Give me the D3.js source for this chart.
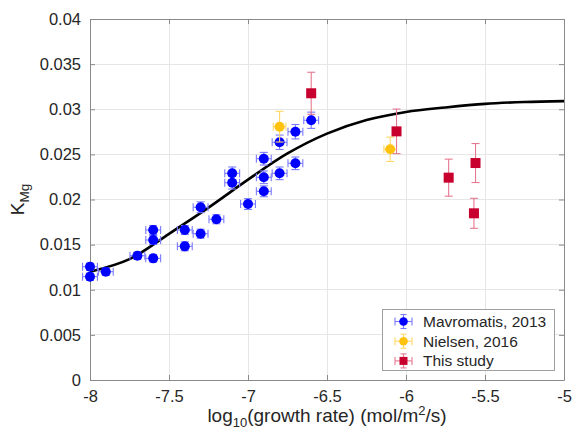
<!DOCTYPE html>
<html>
<head>
<meta charset="utf-8">
<script src="https://cdn.jsdelivr.net/npm/d3@7"></script>
<style>
  html, body { margin: 0; padding: 0; background: #fff; }
  svg { display: block; font-family: "Liberation Sans", Arial, Helvetica, sans-serif; }
</style>
</head>
<body>
<svg id="chart" width="574" height="439"></svg>
<script>
// Mavromatis, 2013
const mavX    = [-8.0, -8.0, -7.9, -7.7, -7.6, -7.6, -7.6, -7.4, -7.4, -7.3, -7.3, -7.2, -7.1, -7.1, -7.0, -6.9, -6.9, -6.9, -6.8, -6.8, -6.7, -6.7, -6.6];
const mavK    = [0.01255, 0.01145, 0.0120, 0.01377, 0.01662, 0.01551, 0.01348, 0.01662, 0.01481, 0.01914, 0.01621, 0.01781, 0.0229, 0.02186, 0.0195, 0.02452, 0.02246, 0.02091, 0.02634, 0.0229, 0.02751, 0.02401, 0.02878];
const mavKErr = [0.0004, 0.0004, 0.0004, 0.0004, 0.0005, 0.0005, 0.0004, 0.0005, 0.0005, 0.0006, 0.0005, 0.0005, 0.0007, 0.0007, 0.0006, 0.0007, 0.0007, 0.0006, 0.0008, 0.0007, 0.0008, 0.0007, 0.0009];
const mavXErr = [0.047, 0.047, 0.047, 0.047, 0.047, 0.047, 0.047, 0.047, 0.047, 0.047, 0.047, 0.047, 0.047, 0.047, 0.047, 0.047, 0.047, 0.047, 0.047, 0.047, 0.047, 0.047, 0.047];

// Nielsen, 2016
const nieX    = [-6.8, -6.1];
const nieK    = [0.02807, 0.02556];
const nieKErr = [0.0017, 0.00135];
const nieXErr = [0.04, 0.04];

// This study
const stdX    = [-6.6, -6.06, -5.73, -5.57, -5.56];
const stdK    = [0.03177, 0.02755, 0.02242, 0.01847, 0.02404];
const stdKErr = [0.00233, 0.00247, 0.00205, 0.00166, 0.00216];
const stdXErr = [0.025, 0.025, 0.025, 0.025, 0.025];

// Model curve
const fitX = [-8.0, -7.75, -7.5, -7.25, -7.0, -6.75, -6.5, -6.25, -6.0, -5.75, -5.5, -5.25, -5.0];
const fitK = [0.0120, 0.0134, 0.0162, 0.0191, 0.0222, 0.0251, 0.0273, 0.0288, 0.0297, 0.0302, 0.0306, 0.0308, 0.0309];

const xTicks = [-8, -7.5, -7, -6.5, -6, -5.5, -5];
const yTicks = [0, 0.005, 0.01, 0.015, 0.02, 0.025, 0.03, 0.035, 0.04];
const legendLabels = ["Mavromatis, 2013", "Nielsen, 2016", "This study"];

const svg = d3.select("#chart");
const L = 90, R = 564, T = 19, B = 380;
const x = d3.scaleLinear().domain([-8, -5]).range([L, R]);
const y = d3.scaleLinear().domain([0, 0.04]).range([B, T]);

const axisColor = "#8a8a8a";
const textColor = "#262626";

// grid
const grid = svg.append("g");
grid.selectAll("line.gx").data(xTicks).join("line")
  .attr("x1", d => x(d)).attr("x2", d => x(d)).attr("y1", T).attr("y2", B)
  .attr("stroke", "#e6e6e6").attr("stroke-width", 1).attr("shape-rendering", "crispEdges");
grid.selectAll("line.gy").data(yTicks).join("line")
  .attr("x1", L).attr("x2", R).attr("y1", d => y(d)).attr("y2", d => y(d))
  .attr("stroke", "#e6e6e6").attr("stroke-width", 1).attr("shape-rendering", "crispEdges");

// axes (ticks point inward, box on all sides)
const fmtY = d => d === 0 ? "0" : String(+d.toFixed(3));
const fmtX = d => String(d).replace("\u2212", "-");
function styleAxis(g) {
  g.select(".domain").attr("stroke", axisColor);
  g.selectAll(".tick line").attr("stroke", axisColor);
  g.selectAll(".tick text").attr("fill", textColor).attr("font-size", 16.5)
    .attr("font-family", "Liberation Sans, Arial, sans-serif");
}
svg.append("g").attr("transform", `translate(0,${B})`)
  .call(d3.axisBottom(x).tickValues(xTicks).tickSize(-5).tickSizeOuter(0).tickPadding(10).tickFormat(fmtX))
  .call(styleAxis);
svg.append("g").attr("transform", `translate(${L},0)`)
  .call(d3.axisLeft(y).tickValues(yTicks).tickSize(-5).tickSizeOuter(0).tickPadding(9).tickFormat(fmtY))
  .call(styleAxis);
svg.append("g").attr("transform", `translate(0,${T})`)
  .call(d3.axisTop(x).tickValues(xTicks).tickSize(-5).tickSizeOuter(0).tickFormat(""))
  .call(styleAxis);
svg.append("g").attr("transform", `translate(${R},0)`)
  .call(d3.axisRight(y).tickValues(yTicks).tickSize(-5).tickSizeOuter(0).tickFormat(""))
  .call(styleAxis);

// fitted curve
svg.append("path")
  .datum(fitX.map((v, i) => [v, fitK[i]]))
  .attr("d", d3.line().x(d => x(d[0])).y(d => y(d[1])).curve(d3.curveCatmullRom))
  .attr("fill", "none").attr("stroke", "#000").attr("stroke-width", 2.6);

// error bars + markers
function drawSeries(xs, ks, kErr, xErr, color, barColor, shape) {
  const g = svg.append("g");
  const data = xs.map((v, i) => ({ x: v, k: ks[i], ke: kErr[i], xe: xErr[i] }));
  const cap = 4;
  data.forEach(d => {
    const cx = x(d.x), cy = y(d.k);
    const x0 = x(d.x - d.xe), x1 = x(d.x + d.xe);
    const y0 = y(d.k - d.ke), y1 = y(d.k + d.ke);
    const segs = [
      [cx, y0, cx, y1], [cx - cap, y0, cx + cap, y0], [cx - cap, y1, cx + cap, y1],
      [x0, cy, x1, cy], [x0, cy - cap, x0, cy + cap], [x1, cy - cap, x1, cy + cap]
    ];
    segs.forEach(s => g.append("line")
      .attr("x1", s[0]).attr("y1", s[1]).attr("x2", s[2]).attr("y2", s[3])
      .attr("stroke", barColor).attr("stroke-width", 1.1));
  });
  if (shape === "circle") {
    g.selectAll("circle").data(data).join("circle")
      .attr("cx", d => x(d.x)).attr("cy", d => y(d.k)).attr("r", 5)
      .attr("fill", color);
  } else {
    g.selectAll("rect.m").data(data).join("rect")
      .attr("x", d => x(d.x) - 5).attr("y", d => y(d.k) - 5)
      .attr("width", 10).attr("height", 10).attr("fill", color);
  }
}
const colors = ["#0000ff", "#ffc20e", "#c8002d"];
const barColors = ["#7a7aff", "#ffd866", "#e5788f"];
drawSeries(mavX, mavK, mavKErr, mavXErr, colors[0], barColors[0], "circle");
drawSeries(nieX, nieK, nieKErr, nieXErr, colors[1], barColors[1], "circle");
drawSeries(stdX, stdK, stdKErr, stdXErr, colors[2], barColors[2], "square");

// legend
const lg = svg.append("g");
lg.append("rect").attr("x", 382.5).attr("y", 309.5).attr("width", 172).attr("height", 61)
  .attr("fill", "#fff").attr("stroke", "#a0a0a0").attr("stroke-width", 1);
legendLabels.forEach((lab, i) => {
  const cy = 321.5 + i * 19.7, cx = 403.5;
  const bc = barColors[i];
  [[cx - 8.5, cy, cx + 8.5, cy], [cx - 8.5, cy - 4, cx - 8.5, cy + 4], [cx + 8.5, cy - 4, cx + 8.5, cy + 4],
   [cx, cy - 7, cx, cy + 7], [cx - 3, cy - 7, cx + 3, cy - 7], [cx - 3, cy + 7, cx + 3, cy + 7]]
    .forEach(s => lg.append("line").attr("x1", s[0]).attr("y1", s[1]).attr("x2", s[2]).attr("y2", s[3])
      .attr("stroke", bc).attr("stroke-width", 1.1));
  if (i < 2) lg.append("circle").attr("cx", cx).attr("cy", cy).attr("r", 4.3).attr("fill", colors[i]);
  else lg.append("rect").attr("x", cx - 4).attr("y", cy - 4).attr("width", 8).attr("height", 8).attr("fill", colors[i]);
  lg.append("text").attr("x", 423).attr("y", cy + 5.5).attr("font-size", 15.5)
    .attr("fill", textColor).text(lab);
});

// axis labels
const xl = svg.append("text").attr("x", (L + R) / 2).attr("y", 422).attr("text-anchor", "middle")
  .attr("font-size", 19).attr("fill", textColor);
xl.append("tspan").text("log");
xl.append("tspan").attr("font-size", 13).attr("dy", 5).text("10");
xl.append("tspan").attr("dy", -5).text("(growth rate) (mol/m");
xl.append("tspan").attr("font-size", 13).attr("dy", -7).text("2");
xl.append("tspan").attr("dy", 7).text("/s)");

const yl = svg.append("text").attr("transform", `translate(24,${(T + B) / 2}) rotate(-90)`)
  .attr("text-anchor", "middle").attr("font-size", 19).attr("fill", textColor);
yl.append("tspan").text("K");
yl.append("tspan").attr("font-size", 13.5).attr("dy", 5).text("Mg");
</script>
</body>
</html>
